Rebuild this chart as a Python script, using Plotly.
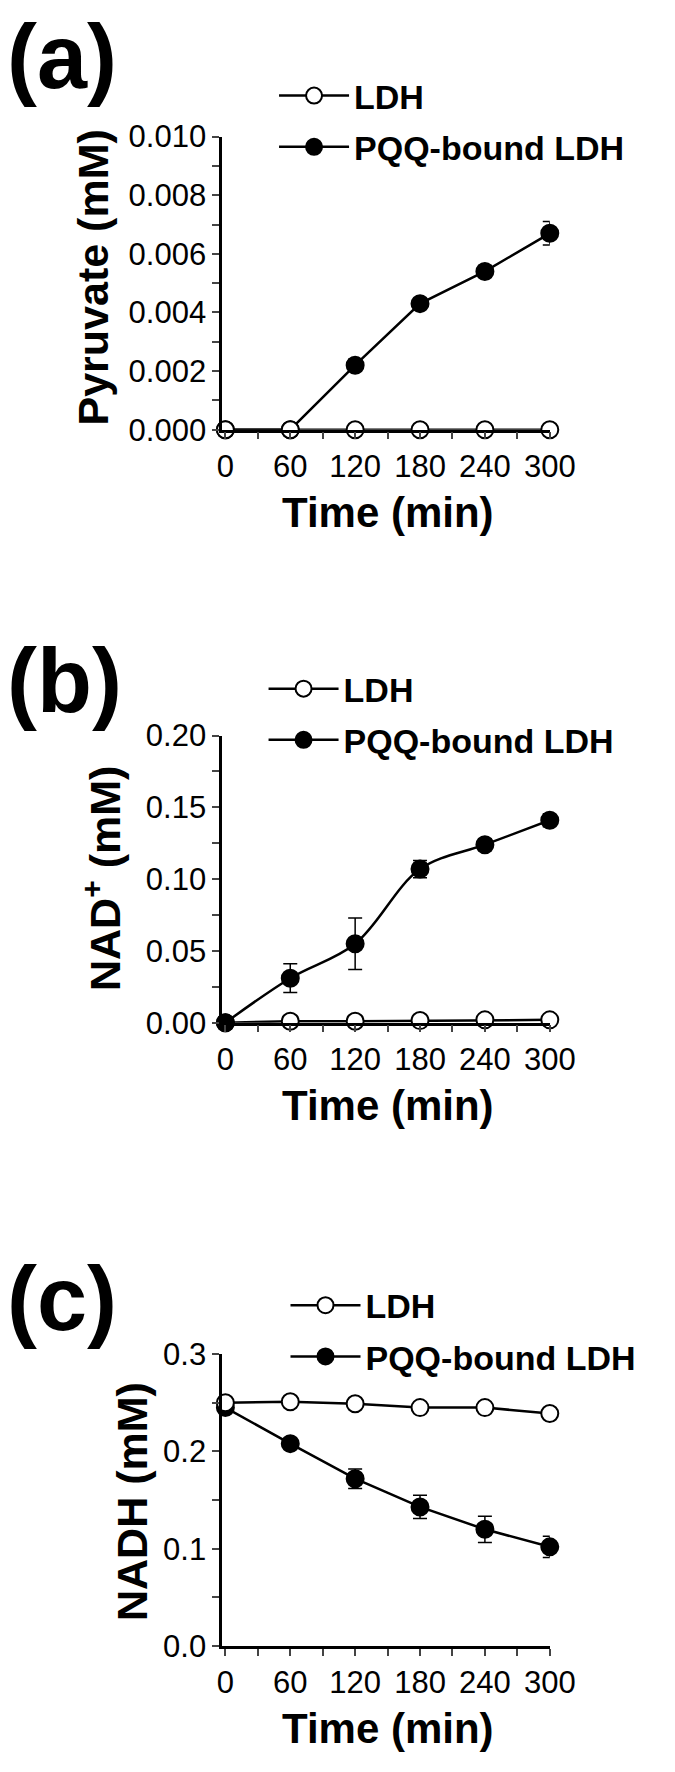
import plotly.graph_objects as go

W, H = 675, 1772
FONT = "Liberation Sans, Arial, sans-serif"

time_min = [0, 60, 120, 180, 240, 300]

# (a) pyruvate
pyruvate_ldh = [0, 0, 0, 0, 0, 0]
pyruvate_pqq = [0, 0, 0.0022, 0.0043, 0.0054, 0.0067]
pyruvate_pqq_err = [0, 0, 0.0002, 0.0001, 0.0002, 0.0004]

# (b) NAD+
nad_ldh = [0, 0.001, 0.001, 0.0015, 0.002, 0.002]
nad_pqq = [0, 0.031, 0.055, 0.107, 0.124, 0.141]
nad_pqq_err = [0, 0.010, 0.018, 0.006, 0.004, 0.0045]

# (c) NADH
nadh_ldh = [0.250, 0.251, 0.249, 0.245, 0.245, 0.239]
nadh_pqq = [0.245, 0.208, 0.172, 0.143, 0.120, 0.102]
nadh_pqq_err = [0, 0.004, 0.010, 0.012, 0.0135, 0.011]

x_ticks = [0, 60, 120, 180, 240, 300]


def px_x(p):
    return p / W


def px_y(p):
    return 1 - p / H


panels = [
    dict(key="", label="(a)", ldh=pyruvate_ldh, pqq=pyruvate_pqq, err=pyruvate_pqq_err,
         yrange=[0, 0.010], dtick=0.002, minor=0.001, fmt=".3f",
         ytitle="Pyruvate (mM)", top=122, bottom=421, title_x=92, title_y=266,
         label_y=41, leg_x=362, leg_y=78, ldh_on_top=True, spline=False),
    dict(key="2", label="(b)", ldh=nad_ldh, pqq=nad_pqq, err=nad_pqq_err,
         yrange=[0, 0.20], dtick=0.05, minor=0.025, fmt=".2f",
         ytitle="NAD<sup>+</sup> (mM)", top=733, bottom=1026, title_x=101, title_y=879,
         label_y=677, leg_x=351, leg_y=683, ldh_on_top=False, spline=True),
    dict(key="3", label="(c)", ldh=nadh_ldh, pqq=nadh_pqq, err=nadh_pqq_err,
         yrange=[0, 0.3], dtick=0.1, minor=0.05, fmt=".1f",
         ytitle="NADH (mM)", top=1364, bottom=1662, title_x=133, title_y=1514,
         label_y=1308, leg_x=374, leg_y=1312, ldh_on_top=True, spline=False),
]

fig = go.Figure()
annotations = []
layout = {}

for p in panels:
    k = p["key"]
    legend_name = "legend" + k
    ldh = go.Scatter(
        x=time_min, y=p["ldh"], name="<b>LDH</b>", mode="lines+markers",
        line=dict(color="black", width=2.5),
        marker=dict(symbol="circle", size=17, color="white",
                    line=dict(color="black", width=2)),
        xaxis="x" + k, yaxis="y" + k, legend=legend_name, legendrank=1,
        legendgroup="ldh" + k, cliponaxis=False,
    )
    pqq = go.Scatter(
        x=time_min, y=p["pqq"], name="<b>PQQ-bound LDH</b>", mode="lines+markers",
        line=dict(color="black", width=2.5,
                  shape="spline" if p["spline"] else "linear"),
        marker=dict(symbol="circle", size=17, color="black",
                    line=dict(color="black", width=2)),
        error_y=dict(type="data", array=p["err"], visible=True,
                     thickness=1.5, width=7, color="black"),
        xaxis="x" + k, yaxis="y" + k, legend=legend_name, legendrank=2,
        legendgroup="pqq" + k, cliponaxis=False,
    )
    if p["ldh_on_top"]:
        fig.add_trace(pqq)
        fig.add_trace(ldh)
    else:
        fig.add_trace(ldh)
        fig.add_trace(pqq)

    layout["xaxis" + k] = dict(
        domain=[px_x(227.6), px_x(571)], range=[-3, 300], anchor="y" + k,
        tickvals=x_ticks, ticks="outside", ticklen=7, tickwidth=2,
        minor=dict(dtick=30, tick0=0, ticks="outside", ticklen=7, tickwidth=2),
        showline=True, linewidth=2.5, linecolor="black",
        showgrid=False, zeroline=False, ticklabelstandoff=0,
        tickfont=dict(family=FONT, size=31, color="black"),
    )
    layout["yaxis" + k] = dict(
        domain=[px_y(p["bottom"]), px_y(p["top"])], range=p["yrange"],
        anchor="x" + k, dtick=p["dtick"], tick0=0, tickformat=p["fmt"],
        ticks="outside", ticklen=7, tickwidth=2,
        minor=dict(dtick=p["minor"], tick0=0, ticks="outside", ticklen=7, tickwidth=2),
        showline=True, linewidth=2.5, linecolor="black",
        showgrid=False, zeroline=False, ticklabelstandoff=0,
        tickfont=dict(family=FONT, size=31, color="black"),
    )
    layout[legend_name] = dict(
        x=px_x(p["leg_x"] - 80), y=px_y(p["leg_y"] - 27),
        xanchor="left", yanchor="top", bgcolor="rgba(0,0,0,0)",
        font=dict(family=FONT, size=34, color="black"),
        itemwidth=70, tracegroupgap=4,
    )
    annotations.append(dict(
        text="<b>%s</b>" % p["label"], x=0, y=px_y(p["label_y"]),
        xref="paper", yref="paper", xanchor="left", yanchor="middle",
        showarrow=False, font=dict(family=FONT, size=90, color="black"),
    ))
    annotations.append(dict(
        text="<b>%s</b>" % p["ytitle"], x=px_x(p["title_x"]),
        y=px_y(p["title_y"]),
        xref="paper", yref="paper", xanchor="center", yanchor="middle",
        textangle=-90, showarrow=False,
        font=dict(family=FONT, size=43, color="black"),
    ))
    annotations.append(dict(
        text="<b>Time (min)</b>", x=px_x(401), y=px_y(p["bottom"] + 84),
        xref="paper", yref="paper", xanchor="center", yanchor="middle",
        showarrow=False, font=dict(family=FONT, size=42, color="black"),
    ))

fig.update_layout(
    width=W, height=H, autosize=False,
    margin=dict(l=0, r=0, t=0, b=0),
    paper_bgcolor="white", plot_bgcolor="white",
    annotations=annotations,
    **layout,
)

# drop the browser's default 8px body margin so the figure fills the window
fig.write_html(
    "out.html",
    config={"displayModeBar": False},
    post_script="document.body.style.margin='0px';",
)
